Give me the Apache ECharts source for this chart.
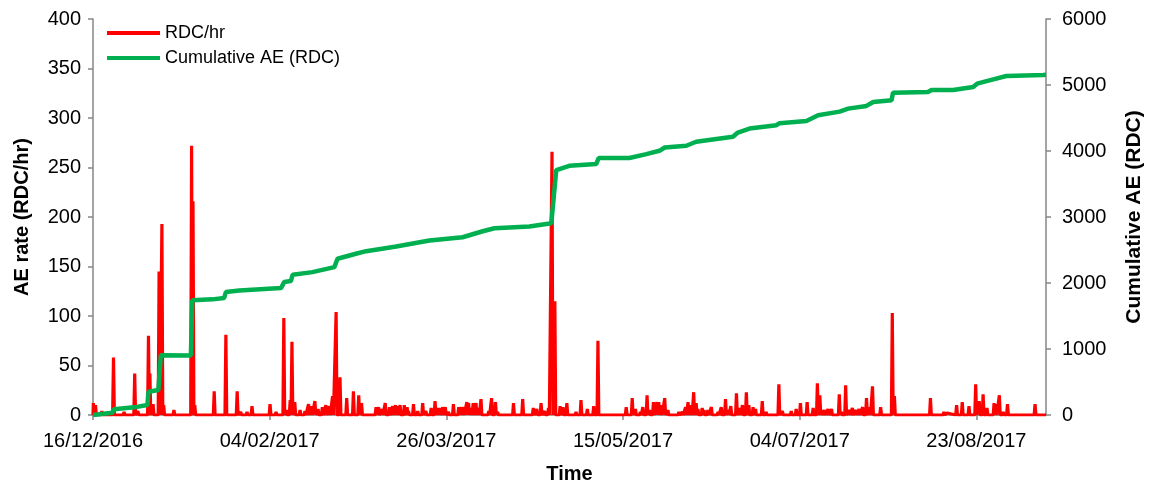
<!DOCTYPE html>
<html>
<head>
<meta charset="utf-8">
<script src="https://cdn.jsdelivr.net/npm/echarts@6/dist/echarts.min.js"></script>
<style>
  html, body { margin: 0; padding: 0; background: #fff; }
  #chart { width: 1150px; height: 484px; }
</style>
</head>
<body>
<div id="chart"></div>
<script>
// days counted from 16/12/2016
const startDate = Date.UTC(2016, 11, 16);
const xTicks = [0, 50, 100, 150, 200, 250];
const xMax = 269.7;
const leftTicks = [0, 50, 100, 150, 200, 250, 300, 350, 400];
const rightTicks = [0, 1000, 2000, 3000, 4000, 5000, 6000];

// RDC/hr events [day, value]
const rdcPerHour = [
  [0.1, 12], [0.7, 10], [2.5, 4], [5.8, 58], [8.8, 3], [11.8, 42], [12.7, 4],
  [15.7, 80], [16.1, 42], [17.0, 11], [18.7, 145], [19.5, 193], [20.0, 10],
  [22.9, 5], [27.9, 272], [28.3, 216], [28.8, 10], [34.3, 24], [37.6, 81],
  [40.8, 24], [41.8, 3], [43.6, 3], [45.0, 9], [50.1, 11], [51.8, 3],
  [54.0, 98], [54.7, 5], [55.8, 15], [56.3, 74], [57.1, 13], [58.6, 5],
  [60.0, 4], [61.0, 11], [61.8, 9], [62.8, 14], [63.7, 6], [64.9, 8],
  [65.9, 10], [66.9, 9], [67.8, 19], [68.8, 104], [69.9, 38], [71.8, 17],
  [73.7, 24], [75.2, 20], [76.0, 12], [79.0, 2], [80.1, 8], [80.8, 8],
  [81.8, 6], [82.7, 12], [83.9, 8], [84.8, 9], [85.6, 10], [86.2, 9],
  [86.9, 10], [88.1, 10], [88.9, 8], [89.3, 4], [90.7, 11], [91.9, 4],
  [93.3, 12], [94.2, 4], [95.7, 7], [96.8, 14], [97.5, 7], [98.2, 7],
  [99.0, 8], [99.7, 8], [100.6, 3], [102.0, 11], [103.5, 8], [104.1, 8],
  [104.8, 8], [105.8, 13], [106.3, 12], [107.0, 7], [107.6, 12], [108.4, 12],
  [109.1, 7], [109.8, 16], [112.0, 4], [112.8, 17], [113.9, 13], [114.5, 3],
  [119.0, 12], [121.6, 16], [124.6, 7], [125.6, 6], [126.8, 12], [127.8, 4],
  [128.9, 7], [129.9, 266], [130.7, 115], [132.2, 9], [133.0, 8], [134.1, 12],
  [136.7, 3], [138.1, 15], [139.9, 6], [141.7, 9], [142.9, 75], [144.8, 2],
  [150.9, 8], [152.6, 17], [153.5, 6], [154.9, 3], [155.6, 8], [156.8, 20],
  [157.5, 5], [158.6, 13], [159.6, 13], [160.1, 13], [160.8, 10], [161.8, 17],
  [162.7, 5], [165.8, 3], [166.8, 3], [167.7, 8], [168.4, 13], [169.3, 10],
  [170.0, 23], [170.7, 12], [171.2, 6], [172.4, 7], [172.9, 5], [174.0, 5],
  [175.0, 8], [176.9, 3], [177.8, 8], [179.0, 16], [179.7, 5], [180.5, 9],
  [182.1, 22], [183.0, 7], [183.8, 10], [184.9, 23], [185.6, 10], [186.8, 8],
  [187.5, 6], [189.4, 14], [190.5, 3], [194.1, 31], [195.1, 4], [196.4, 2],
  [197.6, 4], [199.0, 6], [200.2, 12], [202.1, 13], [203.8, 7], [205.0, 32],
  [205.7, 20], [206.4, 5], [207.1, 5], [208.0, 6], [209.0, 6], [211.2, 21],
  [211.8, 3], [213.0, 30], [214.0, 5], [214.9, 7], [215.9, 5], [216.8, 6],
  [217.8, 8], [218.9, 17], [219.8, 8], [220.6, 29], [222.9, 8], [224.1, 2],
  [226.2, 103], [226.8, 19], [227.9, 2], [229.7, 2], [232.1, 2], [234.5, 2],
  [237.0, 17], [240.8, 3], [241.7, 2], [244.4, 10], [246.0, 13], [247.9, 9],
  [249.8, 31], [250.8, 14], [251.9, 21], [253.0, 7], [255.0, 12], [255.5, 11],
  [256.5, 20], [257.6, 3], [258.8, 11], [266.6, 11]
];

// Cumulative AE (RDC) [day, value]
const cumulativeAE = [
  [0, 0], [5.5, 35], [5.9, 86], [11.6, 116], [15.4, 151], [15.7, 352],
  [18.5, 378], [19.2, 906], [27.7, 900], [28.1, 1737], [33.8, 1752],
  [37.1, 1772], [37.6, 1863], [41.4, 1888], [53.2, 1923], [54.1, 2014],
  [56.0, 2029], [56.5, 2125], [62.1, 2165], [68.3, 2240], [69.2, 2367],
  [74.4, 2443], [77.3, 2482], [85.8, 2553], [95.2, 2643], [104.6, 2693],
  [110.3, 2784], [113.6, 2829], [123.5, 2855], [129.7, 2905], [131.1, 3711],
  [134.8, 3776], [142.4, 3802], [143.1, 3893], [151.8, 3893], [156.6, 3953],
  [160.3, 4003], [161.8, 4053], [167.9, 4079], [170.7, 4140], [181.1, 4215],
  [182.5, 4280], [185.8, 4340], [193.4, 4391], [194.3, 4421], [201.9, 4456],
  [205.2, 4542], [211.3, 4597], [213.7, 4642], [218.9, 4683], [220.8, 4743],
  [226.0, 4769], [226.4, 4884], [236.3, 4894], [237.3, 4924], [243.4, 4924],
  [249.1, 4970], [250.2, 5020], [254.8, 5086], [258.5, 5136], [268.9, 5151],
  [269.7, 5155]
];

function fmtDate(v) {
  const d = new Date(startDate + Math.round(v) * 86400000);
  const dd = String(d.getUTCDate()).padStart(2, '0');
  const mm = String(d.getUTCMonth() + 1).padStart(2, '0');
  return dd + '/' + mm + '/' + d.getUTCFullYear();
}

// hourly trace goes back to zero between events
const halfW = 0.25;
let redLine = [[0, 0]];
rdcPerHour.forEach(p => {
  redLine.push([p[0] - halfW, 0], [p[0], p[1]], [p[0] + halfW, 0]);
});
redLine.push([xMax, 0]);

const axisColor = '#868686';
const font = 'Liberation Sans, Arial, sans-serif';

const myChart = echarts.init(document.getElementById('chart'));
const option = {
  animation: false,
  textStyle: { fontFamily: font },
  grid: { left: 93, right: 104, top: 19, bottom: 69, outerBoundsMode: 'none', containLabel: false },
  legend: {
    orient: 'vertical',
    left: 107,
    top: 24,
    padding: 0,
    itemWidth: 53,
    itemHeight: 4,
    itemGap: 7,
    textStyle: { fontSize: 18, color: '#000', fontFamily: font },
    data: [
      { name: 'RDC/hr', icon: 'rect', itemStyle: { color: '#FF0000' } },
      { name: 'Cumulative AE (RDC)', icon: 'rect', itemStyle: { color: '#00B050' } }
    ]
  },
  xAxis: {
    type: 'value',
    min: 0,
    max: xMax,
    name: 'Time',
    nameLocation: 'middle',
    nameGap: 49,
    nameTextStyle: { fontSize: 20, fontWeight: 'bold', color: '#000', fontFamily: font },
    splitLine: { show: false },
    axisLine: { show: true, lineStyle: { color: axisColor, width: 1.5 } },
    axisTick: { show: true, length: 5, lineStyle: { color: axisColor, width: 1.5 }, customValues: xTicks },
    axisLabel: {
      fontSize: 20, color: '#000', margin: 16, fontFamily: font,
      customValues: xTicks,
      formatter: v => fmtDate(v)
    }
  },
  yAxis: [
    {
      type: 'value',
      min: 0,
      max: 400,
      interval: 50,
      name: 'AE rate (RDC/hr)',
      nameLocation: 'middle',
      nameGap: 61,
      nameTextStyle: { fontSize: 20, fontWeight: 'bold', color: '#000', fontFamily: font },
      splitLine: { show: false },
      axisLine: { show: true, lineStyle: { color: axisColor, width: 1.5 } },
      axisTick: { show: true, length: 5, lineStyle: { color: axisColor, width: 1.5 }, customValues: leftTicks },
      axisLabel: { fontSize: 20, color: '#000', margin: 12, fontFamily: font, customValues: leftTicks }
    },
    {
      type: 'value',
      min: 0,
      max: 6000,
      interval: 1000,
      position: 'right',
      name: 'Cumulative AE (RDC)',
      nameLocation: 'middle',
      nameGap: 78,
      nameTextStyle: { fontSize: 21, fontWeight: 'bold', color: '#000', fontFamily: font },
      splitLine: { show: false },
      axisLine: { show: true, lineStyle: { color: axisColor, width: 1.5 } },
      axisTick: { show: true, length: 5, lineStyle: { color: axisColor, width: 1.5 }, customValues: rightTicks },
      axisLabel: {
        fontSize: 20, color: '#000', margin: 16, fontFamily: font, customValues: rightTicks,
        formatter: v => String(v)
      }
    }
  ],
  series: [
    {
      name: 'RDC/hr',
      type: 'line',
      yAxisIndex: 0,
      symbol: 'none',
      lineStyle: { color: '#FF0000', width: 3.2 },
      itemStyle: { color: '#FF0000' },
      data: redLine
    },
    {
      name: 'Cumulative AE (RDC)',
      type: 'line',
      yAxisIndex: 1,
      symbol: 'none',
      lineStyle: { color: '#00B050', width: 4.5 },
      itemStyle: { color: '#00B050' },
      data: cumulativeAE
    }
  ]
};
myChart.setOption(option);
</script>
</body>
</html>
